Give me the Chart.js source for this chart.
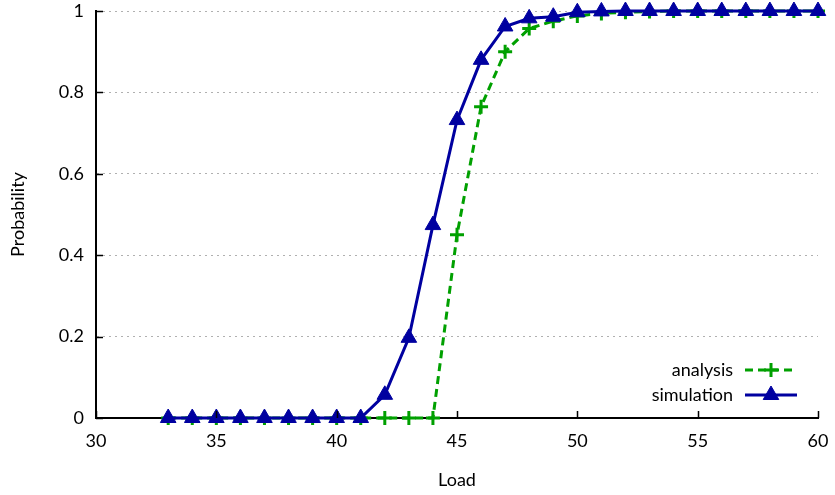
<!DOCTYPE html>
<html>
<head>
<meta charset="utf-8">
<script src="https://cdn.jsdelivr.net/npm/chart.js@4/dist/chart.umd.min.js"></script>
<style>
  html, body { margin: 0; padding: 0; background: #fff; }
  #wrap { width: 835px; height: 495px; }
</style>
</head>
<body>
<div id="wrap"><canvas id="c" width="835" height="495"></canvas></div>
<script>
// Load values on the x axis
const loads = [33,34,35,36,37,38,39,40,41,42,43,44,45,46,47,48,49,50,51,52,53,54,55,56,57,58,59,60];

// Probability from the analytical model
const analysis = [0,0,0,0,0,0,0,0,0,0,0,0,0.450,0.765,0.900,0.957,0.975,0.988,0.994,0.997,0.999,1,1,1,1,1,1,1];

// Probability measured in simulation
const simulation = [0,0,0,0,0,0,0,0,0,0.057,0.197,0.474,0.732,0.880,0.962,0.982,0.986,0.997,0.999,1,1,1,1,1,1,1,1,1];

const xTicks = [30,35,40,45,50,55,60];
const yTicks = [0,0.2,0.4,0.6,0.8,1];

const FONT = 'Lato, "Open Sans", sans-serif';
const FSIZE = 18;
const GREEN = '#00a000';
const BLUE = '#0000a0';

const toPoints = ys => loads.map((x, i) => ({ x, y: ys[i] }));

// Inward tick marks and an in-plot legend with sample line and marker
const decor = {
  id: 'decor',
  afterDatasetsDraw(chart) {
    const { ctx, chartArea: a, scales: { x, y } } = chart;
    ctx.save();
    ctx.strokeStyle = '#000';
    ctx.lineWidth = 1.5;
    ctx.beginPath();
    xTicks.forEach(v => {
      const px = Math.round(x.getPixelForValue(v)) + 0.5;
      ctx.moveTo(px, a.bottom);
      ctx.lineTo(px, a.bottom - 7);
    });
    yTicks.forEach(v => {
      const py = Math.round(y.getPixelForValue(v)) + 0.5;
      ctx.moveTo(a.left, py);
      ctx.lineTo(a.left + 7, py);
    });
    ctx.stroke();

    // legend
    const textRight = a.right - 85;
    const lineL = a.right - 73, lineR = a.right - 21;
    let ly = a.bottom - 48;
    ctx.font = FSIZE + 'px ' + FONT;
    ctx.textAlign = 'right';
    ctx.textBaseline = 'middle';
    chart.data.datasets.forEach(ds => {
      ctx.fillStyle = '#000';
      ctx.fillText(ds.label, textRight, ly);
      ctx.save();
      ctx.strokeStyle = ds.borderColor;
      ctx.lineWidth = ds.borderWidth;
      ctx.setLineDash(ds.borderDash || []);
      ctx.beginPath();
      ctx.moveTo(lineL, ly);
      ctx.lineTo(lineR, ly);
      ctx.stroke();
      ctx.restore();
      ctx.save();
      ctx.strokeStyle = ds.pointBorderColor;
      ctx.fillStyle = ds.pointBackgroundColor;
      ctx.lineWidth = ds.pointBorderWidth;
      Chart.helpers.drawPoint(ctx, {
        pointStyle: ds.pointStyle, radius: ds.pointRadius, rotation: 0, borderWidth: ds.pointBorderWidth
      }, (lineL + lineR) / 2, ly);
      ctx.restore();
      ly += 25;
    });
    ctx.restore();
  }
};

new Chart(document.getElementById('c'), {
  type: 'line',
  data: {
    datasets: [
      {
        label: 'analysis',
        data: toPoints(analysis),
        borderColor: GREEN,
        backgroundColor: GREEN,
        borderWidth: 3,
        borderDash: [8, 5],
        pointStyle: 'cross',
        pointRadius: 7,
        pointBorderWidth: 3,
        pointBorderColor: GREEN,
        pointBackgroundColor: GREEN,
        tension: 0,
        clip: false,
        order: 1
      },
      {
        label: 'simulation',
        data: toPoints(simulation),
        borderColor: BLUE,
        backgroundColor: BLUE,
        borderWidth: 3,
        pointStyle: 'triangle',
        pointRadius: 9,
        pointBorderWidth: 1,
        pointBorderColor: BLUE,
        pointBackgroundColor: BLUE,
        tension: 0,
        clip: false,
        order: 0
      }
    ]
  },
  options: {
    responsive: false,
    animation: false,
    events: [],
    layout: { padding: { top: 11, right: 17, left: 0, bottom: 0 } },
    plugins: {
      legend: { display: false },
      tooltip: { enabled: false }
    },
    scales: {
      x: {
        type: 'linear',
        min: 30, max: 60,
        afterFit: s => { s.height = 77; s.paddingLeft = 0; s.paddingRight = 0; },
        afterBuildTicks: s => { s.ticks = xTicks.map(v => ({ value: v })); },
        ticks: { color: '#000', padding: 12, font: { family: FONT, size: FSIZE } },
        grid: { display: false, drawTicks: false },
        border: { display: true, color: '#000', width: 2 },
        title: { display: true, text: 'Load', color: '#000', padding: { top: 0, bottom: 4 }, font: { family: FONT, size: FSIZE } }
      },
      y: {
        min: 0, max: 1,
        afterFit: s => { s.width = 96; s.paddingTop = 0; s.paddingBottom = 0; },
        afterBuildTicks: s => { s.ticks = yTicks.map(v => ({ value: v })); },
        ticks: { color: '#000', padding: 12, font: { family: FONT, size: FSIZE }, callback: v => String(Math.round(v * 10) / 10) },
        grid: {
          drawTicks: false,
          lineWidth: 1,
          color: c => (c.tick && c.tick.value === 0) ? 'rgba(0,0,0,0)' : '#b0b0b0'
        },
        border: { display: true, color: '#000', width: 2, dash: [2, 4] },
        title: { display: true, text: 'Probability', color: '#000', padding: { top: 7, bottom: 0 }, font: { family: FONT, size: FSIZE } }
      }
    }
  },
  plugins: [decor]
});
</script>
</body>
</html>
